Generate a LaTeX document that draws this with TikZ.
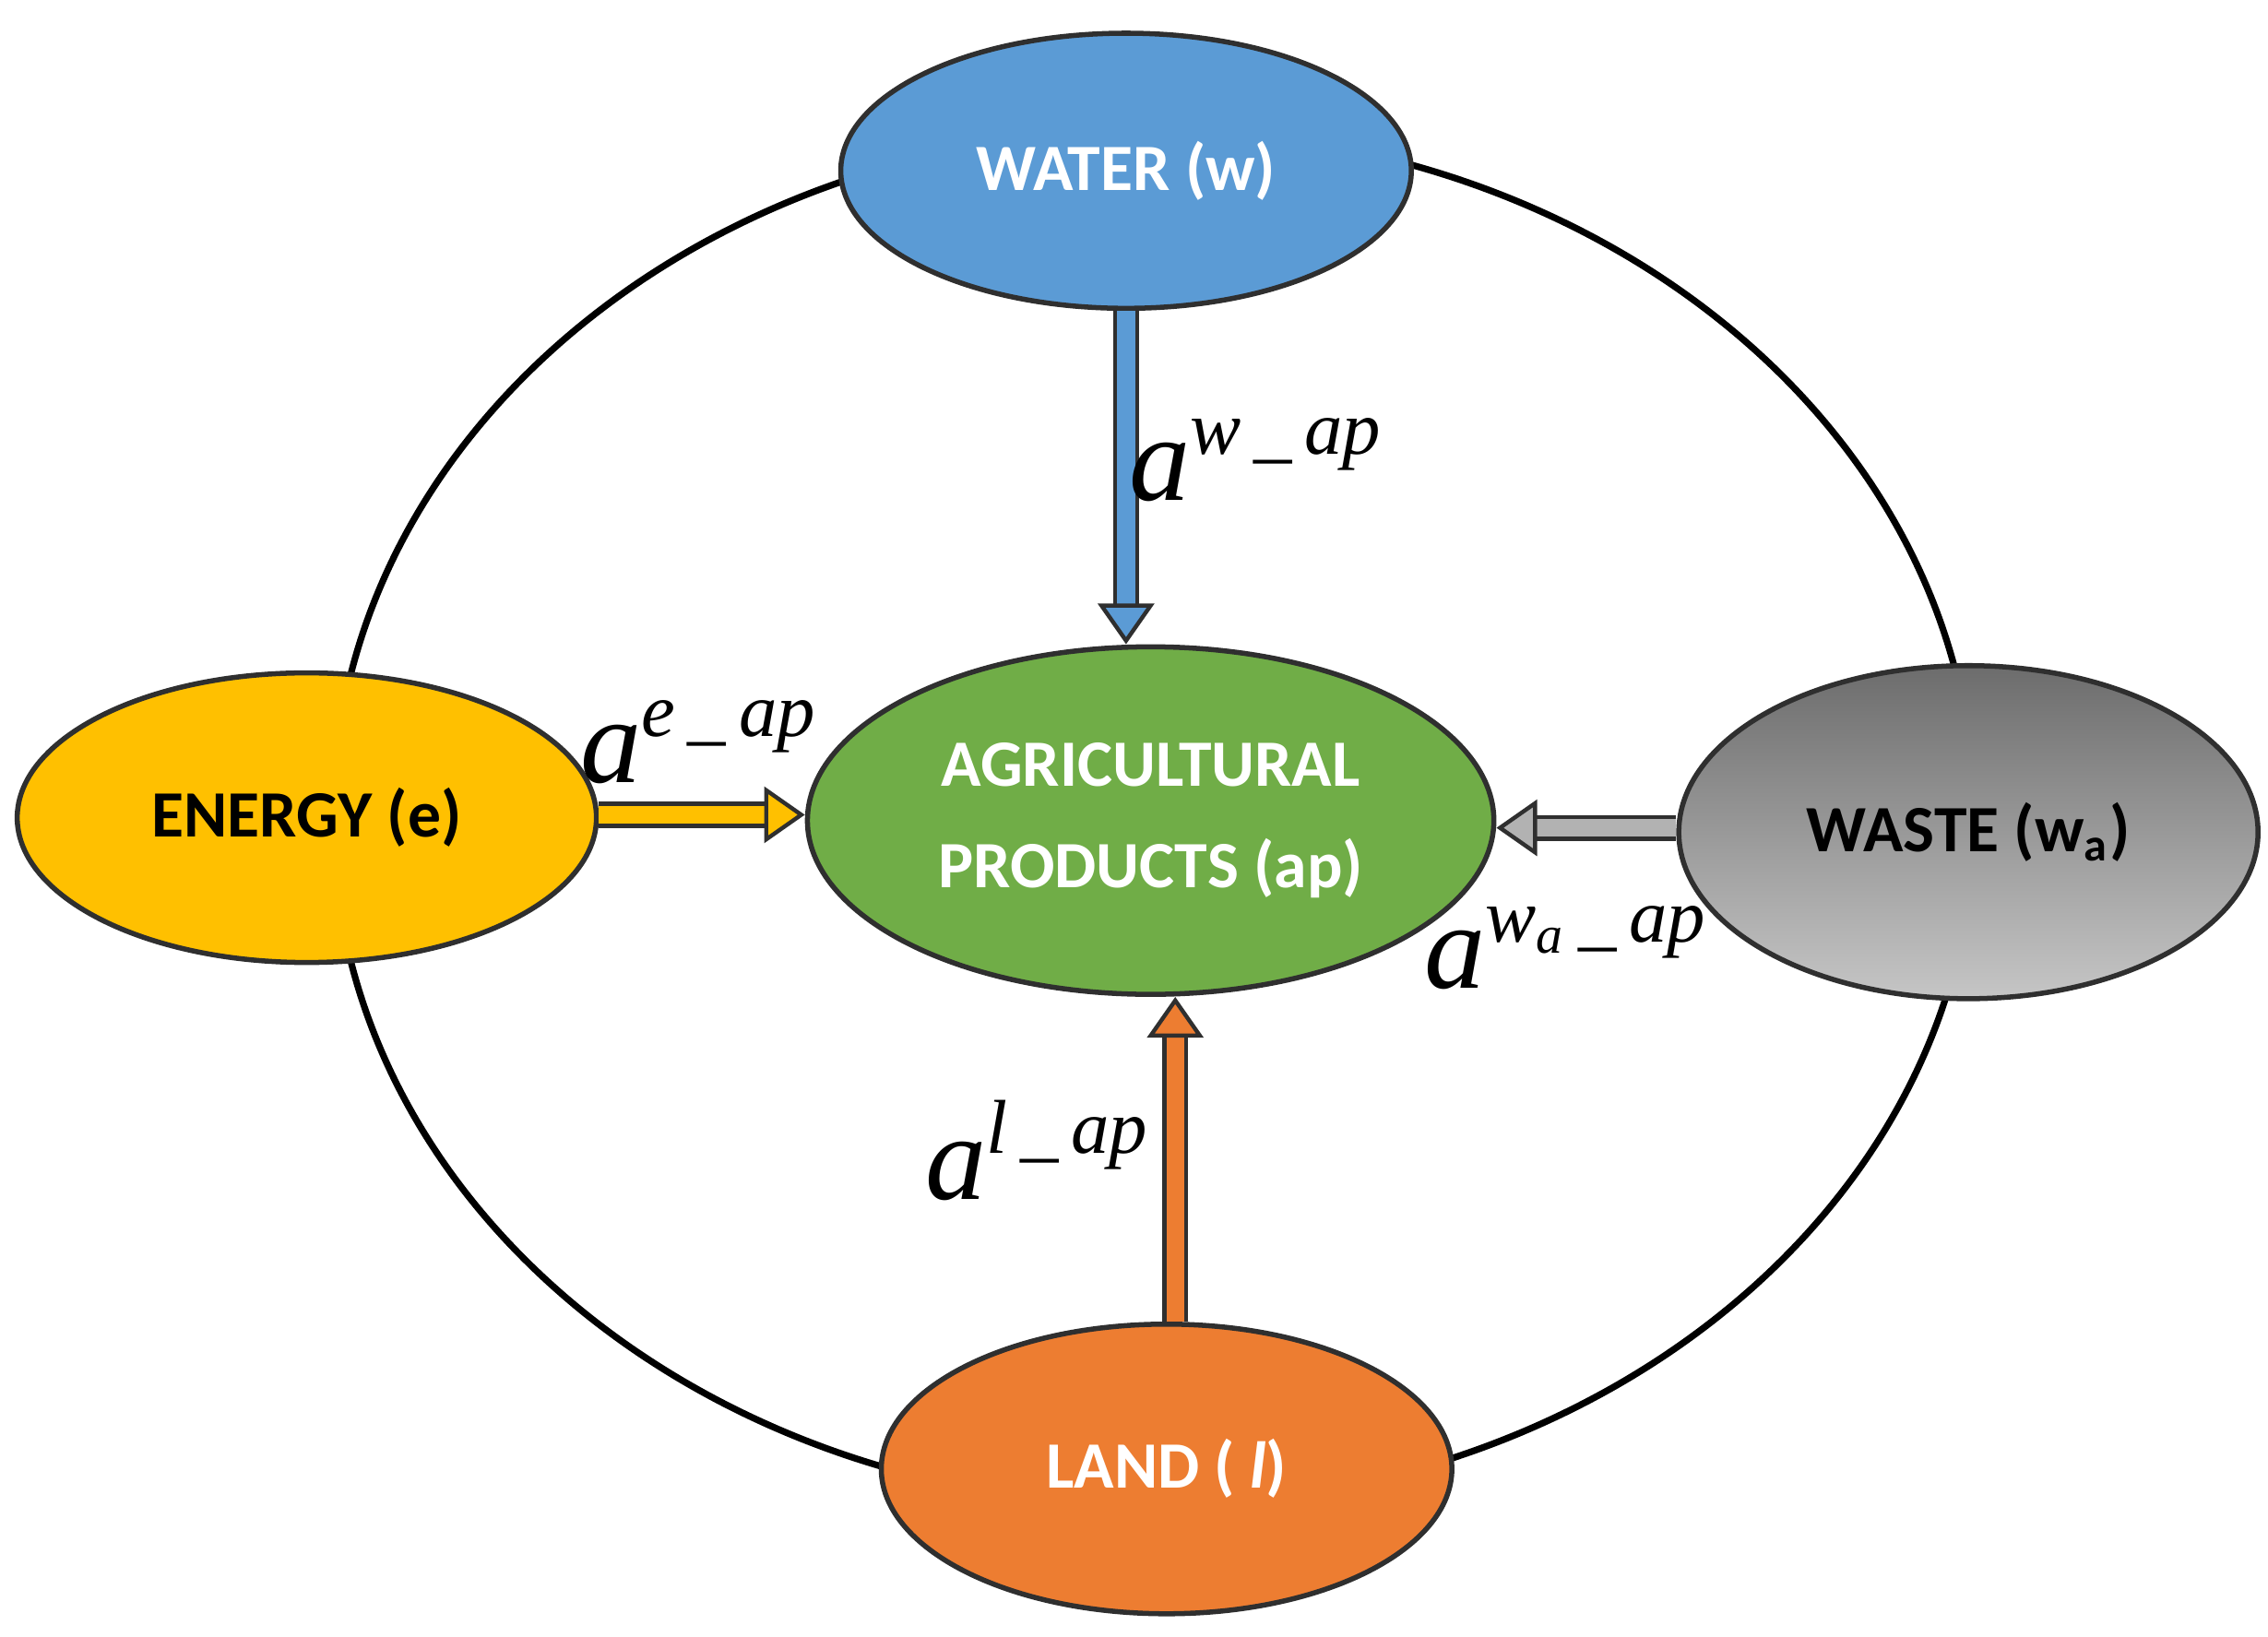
\documentclass[tikz,border=0pt]{standalone}
\usepackage{fontspec}
\setmainfont{Carlito}
\newfontfamily\tms{Liberation Serif}
\usetikzlibrary{shapes.geometric,arrows.meta}
\definecolor{wblue}{HTML}{5B9BD5}
\definecolor{egold}{HTML}{FFC000}
\definecolor{agreen}{HTML}{70AD47}
\definecolor{lorange}{HTML}{ED7D31}
\definecolor{edge}{HTML}{2F2F2F}
\begin{document}
\begin{tikzpicture}[x=0.01cm,y=-0.01cm,
  blob/.style={ellipse,draw=edge,line width=1pt,font=\bfseries\fontsize{13}{16}\selectfont,align=center,inner sep=0pt},
  flow/.style={-{Triangle[open,fill=#1,length=8pt,width=11pt]},line width=0.8pt,draw=edge,double=#1,double distance=3.5pt},
  lab/.style={font=\tms\itshape\fontsize{24}{26}\selectfont}]
\useasboundingbox (0,0) rectangle (1567,1131);
\draw[line width=1.3pt] (797,565) ellipse [x radius=567,y radius=475];
\node[blob,fill=wblue,text=white,minimum width=3.94cm,minimum height=1.9cm] (w) at (778,118) {WATER (w)};
\node[blob,fill=egold,text=black,minimum width=4cm,minimum height=2cm] (e) at (212,565) {ENERGY (e)};
\node[blob,fill=agreen,text=white,minimum width=4.74cm,minimum height=2.4cm] (ap) at (795,567) {AGRICULTURAL\\[4pt]PRODUCTS (ap)};
\node[blob,top color=gray!85!black,bottom color=gray!45,text=black,minimum width=4cm,minimum height=2.3cm] (wa) at (1360,575) {WASTE (w\textsubscript{a})};
\node[blob,fill=lorange,text=white,minimum width=3.94cm,minimum height=2cm] (l) at (806,1015) {LAND ( \textit{l})};
\draw[flow=wblue] (w.south) -- (ap.north -| w.south);
\draw[flow=egold] (e.east |- 0,563) -- (ap.west |- 0,563);
\draw[flow=gray!60] (wa.west |- 0,572) -- (ap.east |- 0,572);
\draw[flow=lorange] (l.north -| 812,0) -- (ap.south -| 812,0);
\node[lab] (t1) at (868,318) {a\textsuperscript{\fontsize{15}{15}\selectfont w\,\_\,ap}};
\node[lab] (t2) at (483,513) {a\textsuperscript{\fontsize{15}{15}\selectfont e\,\_\,ap}};
\node[lab] (t3) at (1082,655) {a\textsuperscript{\fontsize{15}{15}\selectfont w\textsubscript{a}\,\_\,ap}};
\node[lab] (t4) at (717,795) {a\textsuperscript{\fontsize{15}{15}\selectfont l\,\_\,ap}};
\end{tikzpicture}
\end{document}
